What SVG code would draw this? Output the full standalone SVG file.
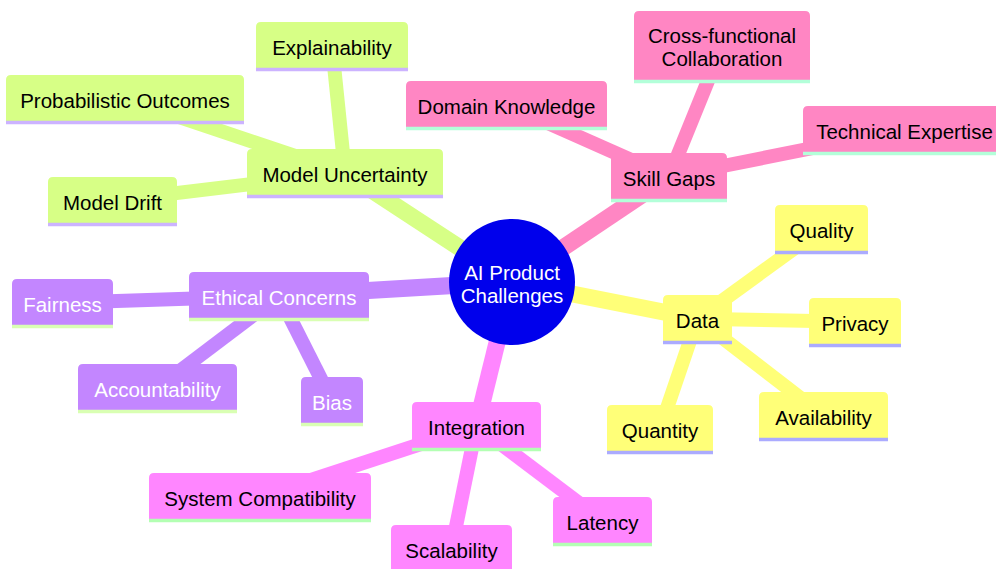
<svg xmlns="http://www.w3.org/2000/svg" width="996" height="569" viewBox="0 0 996 569">
  <style>
    text { font-family: "Liberation Sans", Arial, sans-serif; font-size: 20.5px; text-anchor: middle; fill: #000; }
    .edge { fill: none; stroke-linecap: butt; }
    .d0 { stroke-width: 17; }
    .d1 { stroke-width: 14; }
    .e-data { stroke: #FFFF78; }
    .e-model { stroke: #D7FF86; }
    .e-ethic { stroke: #C386FF; }
    .e-integ { stroke: #FF86FF; }
    .e-skill { stroke: #FF86C3; }
    .n-data path { fill: #FFFF78; } .n-data line { stroke: #ABABFF; }
    .n-model path { fill: #D7FF86; } .n-model line { stroke: #CCB3FF; }
    .n-ethic path { fill: #C386FF; } .n-ethic line { stroke: #D9FFB3; } .n-ethic text { fill: #fff; }
    .n-integ path { fill: #FF86FF; } .n-integ line { stroke: #B3FFB3; }
    .n-skill path { fill: #FF86C3; } .n-skill line { stroke: #B3FFD9; }
    line { stroke-width: 3.5; }
    .root circle { fill: #0000EC; }
    .root text { fill: #fff; }
  </style>

  <!-- connectors: straight strokes between node centres -->
  <g id="edges">
    <path class="edge d0 e-model" d="M512,282 L345,172.75"/>
    <path class="edge d0 e-skill" d="M512,282 L669,176.75"/>
    <path class="edge d0 e-data" d="M512,282 L697.5,318.75"/>
    <path class="edge d0 e-integ" d="M512,282 L476.5,425.75"/>
    <path class="edge d0 e-ethic" d="M512,282 L279,295.75"/>

    <path class="edge d1 e-model" d="M345,172.75 L332,45.75"/>
    <path class="edge d1 e-model" d="M345,172.75 L125,98.75"/>
    <path class="edge d1 e-model" d="M345,172.75 L112.5,200.75"/>

    <path class="edge d1 e-skill" d="M669,176.75 L506.5,104.75"/>
    <path class="edge d1 e-skill" d="M669,176.75 L722,46.25"/>
    <path class="edge d1 e-skill" d="M669,176.75 L904.5,129.75"/>

    <path class="edge d1 e-data" d="M697.5,318.75 L821.5,228.75"/>
    <path class="edge d1 e-data" d="M697.5,318.75 L855,321.75"/>
    <path class="edge d1 e-data" d="M697.5,318.75 L823.5,415.75"/>
    <path class="edge d1 e-data" d="M697.5,318.75 L660,428.75"/>

    <path class="edge d1 e-integ" d="M476.5,425.75 L260,496.75"/>
    <path class="edge d1 e-integ" d="M476.5,425.75 L451.5,548.75"/>
    <path class="edge d1 e-integ" d="M476.5,425.75 L602.5,520.75"/>

    <path class="edge d1 e-ethic" d="M279,295.75 L62.5,302.75"/>
    <path class="edge d1 e-ethic" d="M279,295.75 L157.5,387.75"/>
    <path class="edge d1 e-ethic" d="M279,295.75 L332,400.75"/>
  </g>

  <!-- root -->
  <g id="root" class="root">
    <circle cx="512" cy="282" r="63"/>
    <text x="512" y="279.5">AI Product</text>
    <text x="512" y="302.5">Challenges</text>
  </g>

  <!-- Model Uncertainty branch -->
  <g id="model-uncertainty" class="n-model" transform="translate(247,149)">
    <path d="M0,47.5 V5 Q0,0 5,0 H191 Q196,0 196,5 V47.5 Z"/>
    <line x1="0" y1="47.5" x2="196" y2="47.5"/>
    <text x="98" y="32.5">Model Uncertainty</text>
  </g>
  <g id="explainability" class="n-model" transform="translate(256,22)">
    <path d="M0,47.5 V5 Q0,0 5,0 H147 Q152,0 152,5 V47.5 Z"/>
    <line x1="0" y1="47.5" x2="152" y2="47.5"/>
    <text x="76" y="32.5">Explainability</text>
  </g>
  <g id="probabilistic-outcomes" class="n-model" transform="translate(6,75)">
    <path d="M0,47.5 V5 Q0,0 5,0 H233 Q238,0 238,5 V47.5 Z"/>
    <line x1="0" y1="47.5" x2="238" y2="47.5"/>
    <text x="119" y="32.5">Probabilistic Outcomes</text>
  </g>
  <g id="model-drift" class="n-model" transform="translate(48,177)">
    <path d="M0,47.5 V5 Q0,0 5,0 H124 Q129,0 129,5 V47.5 Z"/>
    <line x1="0" y1="47.5" x2="129" y2="47.5"/>
    <text x="64.5" y="32.5">Model Drift</text>
  </g>

  <!-- Skill Gaps branch -->
  <g id="skill-gaps" class="n-skill" transform="translate(611,153)">
    <path d="M0,47.5 V5 Q0,0 5,0 H111 Q116,0 116,5 V47.5 Z"/>
    <line x1="0" y1="47.5" x2="116" y2="47.5"/>
    <text x="58" y="32.5">Skill Gaps</text>
  </g>
  <g id="domain-knowledge" class="n-skill" transform="translate(406,81)">
    <path d="M0,47.5 V5 Q0,0 5,0 H196 Q201,0 201,5 V47.5 Z"/>
    <line x1="0" y1="47.5" x2="201" y2="47.5"/>
    <text x="100.5" y="32.5">Domain Knowledge</text>
  </g>
  <g id="cross-functional-collaboration" class="n-skill" transform="translate(634,11)">
    <path d="M0,70.5 V5 Q0,0 5,0 H171 Q176,0 176,5 V70.5 Z"/>
    <line x1="0" y1="70.5" x2="176" y2="70.5"/>
    <text x="88" y="31.5">Cross-functional</text>
    <text x="88" y="54.5">Collaboration</text>
  </g>
  <g id="technical-expertise" class="n-skill" transform="translate(803,106)">
    <path d="M0,47.5 V5 Q0,0 5,0 H198 Q203,0 203,5 V47.5 Z"/>
    <line x1="0" y1="47.5" x2="203" y2="47.5"/>
    <text x="101.5" y="32.5">Technical Expertise</text>
  </g>

  <!-- Data branch -->
  <g id="data" class="n-data" transform="translate(663,295)">
    <path d="M0,47.5 V5 Q0,0 5,0 H64 Q69,0 69,5 V47.5 Z"/>
    <line x1="0" y1="47.5" x2="69" y2="47.5"/>
    <text x="34.5" y="32.5">Data</text>
  </g>
  <g id="quality" class="n-data" transform="translate(775,205)">
    <path d="M0,47.5 V5 Q0,0 5,0 H88 Q93,0 93,5 V47.5 Z"/>
    <line x1="0" y1="47.5" x2="93" y2="47.5"/>
    <text x="46.5" y="32.5">Quality</text>
  </g>
  <g id="privacy" class="n-data" transform="translate(809,298)">
    <path d="M0,47.5 V5 Q0,0 5,0 H87 Q92,0 92,5 V47.5 Z"/>
    <line x1="0" y1="47.5" x2="92" y2="47.5"/>
    <text x="46" y="32.5">Privacy</text>
  </g>
  <g id="availability" class="n-data" transform="translate(759,392)">
    <path d="M0,47.5 V5 Q0,0 5,0 H124 Q129,0 129,5 V47.5 Z"/>
    <line x1="0" y1="47.5" x2="129" y2="47.5"/>
    <text x="64.5" y="32.5">Availability</text>
  </g>
  <g id="quantity" class="n-data" transform="translate(607,405)">
    <path d="M0,47.5 V5 Q0,0 5,0 H101 Q106,0 106,5 V47.5 Z"/>
    <line x1="0" y1="47.5" x2="106" y2="47.5"/>
    <text x="53" y="32.5">Quantity</text>
  </g>

  <!-- Integration branch -->
  <g id="integration" class="n-integ" transform="translate(412,402)">
    <path d="M0,47.5 V5 Q0,0 5,0 H124 Q129,0 129,5 V47.5 Z"/>
    <line x1="0" y1="47.5" x2="129" y2="47.5"/>
    <text x="64.5" y="32.5">Integration</text>
  </g>
  <g id="system-compatibility" class="n-integ" transform="translate(149,473)">
    <path d="M0,47.5 V5 Q0,0 5,0 H217 Q222,0 222,5 V47.5 Z"/>
    <line x1="0" y1="47.5" x2="222" y2="47.5"/>
    <text x="111" y="32.5">System Compatibility</text>
  </g>
  <g id="scalability" class="n-integ" transform="translate(391,525)">
    <path d="M0,47.5 V5 Q0,0 5,0 H116 Q121,0 121,5 V47.5 Z"/>
    <line x1="0" y1="47.5" x2="121" y2="47.5"/>
    <text x="60.5" y="32.5">Scalability</text>
  </g>
  <g id="latency" class="n-integ" transform="translate(553,497)">
    <path d="M0,47.5 V5 Q0,0 5,0 H94 Q99,0 99,5 V47.5 Z"/>
    <line x1="0" y1="47.5" x2="99" y2="47.5"/>
    <text x="49.5" y="32.5">Latency</text>
  </g>

  <!-- Ethical Concerns branch -->
  <g id="ethical-concerns" class="n-ethic" transform="translate(189,272)">
    <path d="M0,47.5 V5 Q0,0 5,0 H175 Q180,0 180,5 V47.5 Z"/>
    <line x1="0" y1="47.5" x2="180" y2="47.5"/>
    <text x="90" y="32.5">Ethical Concerns</text>
  </g>
  <g id="fairness" class="n-ethic" transform="translate(12,279)">
    <path d="M0,47.5 V5 Q0,0 5,0 H96 Q101,0 101,5 V47.5 Z"/>
    <line x1="0" y1="47.5" x2="101" y2="47.5"/>
    <text x="50.5" y="32.5">Fairness</text>
  </g>
  <g id="accountability" class="n-ethic" transform="translate(78,364)">
    <path d="M0,47.5 V5 Q0,0 5,0 H154 Q159,0 159,5 V47.5 Z"/>
    <line x1="0" y1="47.5" x2="159" y2="47.5"/>
    <text x="79.5" y="32.5">Accountability</text>
  </g>
  <g id="bias" class="n-ethic" transform="translate(301,377)">
    <path d="M0,47.5 V5 Q0,0 5,0 H57 Q62,0 62,5 V47.5 Z"/>
    <line x1="0" y1="47.5" x2="62" y2="47.5"/>
    <text x="31" y="32.5">Bias</text>
  </g>
</svg>
